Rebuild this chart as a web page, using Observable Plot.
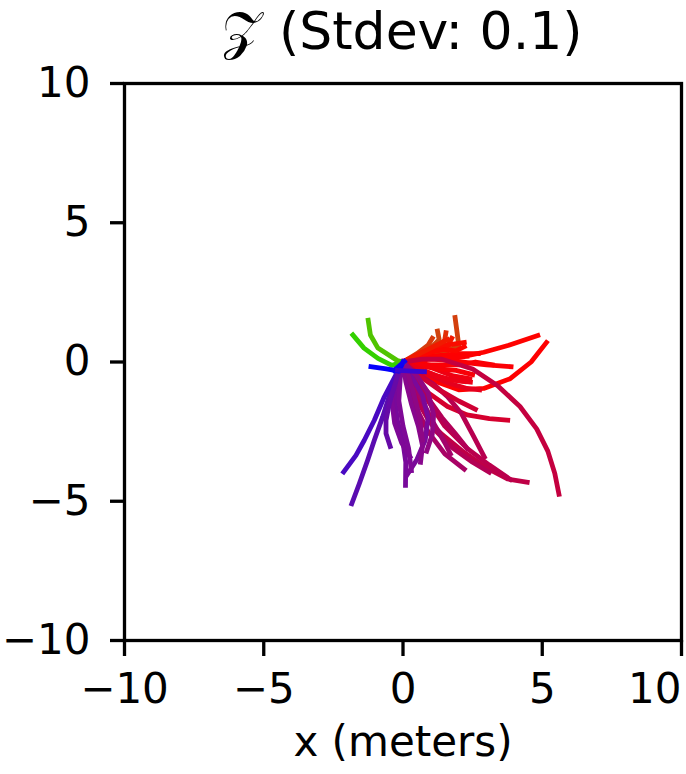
<!DOCTYPE html>
<html>
<head>
<meta charset="utf-8">
<script src="https://cdn.jsdelivr.net/npm/d3@7"></script>
<script src="https://cdn.jsdelivr.net/npm/@observablehq/plot@0.6"></script>
<style>
  html, body { margin: 0; padding: 0; background: white; }
  #title { height: 66px; line-height: 62px; box-sizing: border-box; padding-left: 124px; padding-right: 5px;
           text-align: center; font-family: "DejaVu Sans", sans-serif; font-size: 52px; color: black; white-space: nowrap; }
  #chart svg { overflow: visible; }
</style>
</head>
<body>
<div id="title">𝒵 (Stdev: 0.1)</div>
<div id="chart"></div>
<script>
// Tick values
const xTicks = [-10, -5, 0, 5, 10];
const yTicks = [-10, -5, 0, 5, 10];

// Trajectories (x, y in meters), grouped by colour family
const greenPaths = [
  [[0,0],[-0.4,-0.12],[-0.9,0.13],[-1.4,0.5],[-1.8,0.97]],
  [[0,0],[-0.2,0.05],[-0.9,0.5],[-1.17,0.97],[-1.25,1.5]]
];
const redPaths = [
  [[0,0],[0.8,0.25],[1.6,0.4],[2.0,0.6],[1.95,1.0],[1.87,1.6]],
  [[0,0],[0.6,0.3],[1.1,0.6],[1.3,0.8],[1.24,1.11]],
  [[0,0],[0.7,0.25],[1.3,0.5],[1.5,0.8],[1.54,1.05]],
  [[0,0],[0.5,0.3],[0.9,0.6],[1.05,0.85]],
  [[0,0],[0.6,0.2],[1.2,0.45],[1.6,0.55],[1.75,0.85]],
  [[0,0],[0.8,0.15],[1.6,0.2],[2.4,0.25],[2.9,0.35],[3.8,0.6],[4.84,0.95]],
  [[0,0],[0.9,-0.6],[2.0,-1.0],[2.9,-0.95],[3.85,-0.6],[4.6,0.0],[5.15,0.7]],
  [[0,0],[1,0.1],[1.8,0.05],[2.5,-0.05],[3.0,-0.1],[3.88,-0.17]],
  [[0,0],[1,-0.1],[2,-0.1],[2.6,0.0],[3.2,-0.1]],
  [[0,0],[1,0.2],[2,0.3],[2.7,0.3]],
  [[0,0],[1,-0.2],[1.8,-0.5],[2.4,-0.6]],
  [[0,0],[0.8,-0.4],[1.6,-0.75],[2.3,-0.95],[2.75,-1.0]],
  [[0,0],[0.7,-0.3],[1.5,-0.6],[2.2,-0.7]],
  [[0,0],[0.8,0.4],[1.5,0.6],[2.2,0.7]],
  [[0,0],[0.5,0.15],[1.0,0.35],[1.5,0.45],[1.9,0.4],[2.2,0.55]],
  [[0,0],[0.6,0.05],[1.2,0.2],[1.7,0.15],[2.3,0.2]],
  [[0,0],[0.6,-0.1],[1.3,-0.25],[1.9,-0.3],[2.5,-0.45]],
  [[0,0],[0.4,0.2],[0.9,0.45],[1.4,0.7],[1.6,0.8]],
  [[0,0],[0.6,-0.25],[1.2,-0.5],[1.8,-0.65],[2.42,-0.72]]
];
const crimsonPaths = [
  [[0,0],[0.7,0.1],[1.4,0.1],[2.5,-0.25],[3.4,-0.85],[4.2,-1.6],[4.8,-2.4],[5.2,-3.2],[5.45,-4.0],[5.6,-4.75]],
  [[0,0],[0.4,-0.5],[0.9,-1.1],[1.6,-1.6],[2.3,-1.9],[3.1,-2.03],[3.76,-2.09]],
  [[0,0],[0.5,-0.4],[1.1,-0.8],[1.6,-1.25],[2.1,-1.85],[2.55,-2.7],[2.92,-3.41]],
  [[0,0],[0.3,-0.7],[0.6,-1.5],[0.95,-2.15],[1.4,-2.6],[2.2,-3.25],[3.0,-3.8],[3.75,-4.2],[4.46,-4.32]],
  [[0,0],[0.3,-0.8],[0.7,-1.7],[1.2,-2.5],[1.8,-3.1],[2.5,-3.6],[3.1,-3.96]],
  [[0,0],[0.2,-0.8],[0.5,-1.7],[0.9,-2.5],[1.5,-3.3],[2.2,-3.85]],
  [[0,0],[0.4,-0.6],[0.9,-1.4],[1.5,-2.3],[2.3,-3.1],[3.1,-3.7],[3.86,-4.22]],
  [[0,0],[0.6,-0.5],[1.3,-1.0],[2.0,-1.4],[2.6,-1.7]],
  [[0,0],[0.3,-0.6],[0.7,-1.4],[1.1,-2.2],[1.5,-2.9],[1.7,-3.3]],
  [[0,0],[0.4,-0.6],[0.9,-1.3],[1.4,-2.0],[1.9,-2.6],[2.3,-3.1]]
];
const purplePaths = [
  [[0,0],[-0.2,-0.6],[-0.3,-1.3],[-0.2,-2.1],[0.0,-2.9],[0.1,-3.6],[0.09,-4.43]],
  [[0,0],[0.3,-0.5],[0.7,-1.2],[0.9,-2.0],[0.8,-2.8],[0.5,-3.5],[0.15,-4.05]],
  [[0,0],[0.1,-0.7],[0.3,-1.5],[0.55,-2.3],[0.7,-3.0],[0.63,-3.6]],
  [[0,0],[-0.3,-0.6],[-0.4,-1.4],[-0.3,-2.2],[-0.05,-2.9],[0.25,-3.4]],
  [[0,0],[0.5,-0.5],[0.9,-1.1],[1.1,-1.9],[1.05,-2.6],[0.85,-3.2]],
  [[0,0],[0.2,-0.5],[0.4,-1.2],[0.6,-2.0],[0.7,-2.8]],
  [[0,0],[-0.1,-0.6],[-0.15,-1.4],[0.0,-2.3],[0.2,-3.1],[0.3,-3.9]],
  [[0,0],[-0.2,-0.4],[-0.5,-1.25],[-0.73,-1.97],[-1.03,-2.81],[-1.27,-3.53],[-1.57,-4.37],[-1.84,-5.09]],
  [[0,0],[-0.25,-0.45],[-0.67,-1.25],[-1.03,-2.09],[-1.39,-2.81],[-1.69,-3.35],[-2.13,-3.95]],
  [[0,0],[-0.2,-0.5],[-0.49,-1.49],[-0.61,-2.09],[-0.61,-2.57],[-0.46,-3.03]]
];
const bluePaths = [
  [[0,0],[-0.15,-0.33],[-0.6,-0.25],[-1.15,-0.17]],
  [[-0.32,-0.3],[-0.15,-0.15],[0.05,0.02]],
  [[-0.2,-0.3],[0.3,-0.33],[0.77,-0.35]]
];
const blueDirs = [-172, -150, -125];

// Build a tidy table: one row per point, heading (deg) from the trajectory end
const rows = [];
function addGroup(name, paths, dirs) {
  paths.forEach((p, i) => {
    const end = p[p.length - 1];
    const dir = dirs ? dirs[i] : Math.atan2(end[1], end[0]) * 180 / Math.PI;
    p.forEach(([x, y]) => rows.push({id: name + i, x, y, dir}));
  });
}
addGroup("r", redPaths);
addGroup("c", crimsonPaths);
addGroup("p", purplePaths);
addGroup("g", greenPaths);
addGroup("b", bluePaths, blueDirs);

const fmt = d => (d < 0 ? "\u2212" + Math.abs(d) : String(d));
const xTicksInner = xTicks.slice(0, -1);
const xTicksLast = xTicks.slice(-1);

const chart = Plot.plot({
  width: 686,
  height: 708,
  marginTop: 17,
  marginBottom: 134,
  marginLeft: 124,
  marginRight: 5,
  style: {fontFamily: "DejaVu Sans", fontSize: "42px", color: "black", background: "white", overflow: "visible"},
  x: {domain: [-10, 10]},
  y: {domain: [-10, 10]},
  color: {
    type: "linear",
    interpolate: "rgb",
    domain: [-180, -150, -125, -110, -95, -85, -70, -55, -40, -25, -10, 10, 28, 42, 100, 135, 160, 180],
    range: ["#0000ff", "#1000f4", "#3c06d0", "#5a0cb0", "#6a0aa4", "#800896", "#98067a", "#b0005a", "#c4003e",
            "#dc0028", "#f80008", "#ff0000", "#f01c00", "#d04410", "#80b000", "#48c800", "#28d400", "#0000ff"]
  },
  marks: [
    Plot.line(rows, {x: "x", y: "y", z: "id", stroke: "dir", strokeWidth: 4.8, strokeLinecap: "square"}),
    Plot.frame({stroke: "black", strokeWidth: 3.3}),
    Plot.axisX({ticks: xTicksInner, tickFormat: fmt, tickSize: 16, tickPadding: 17, strokeWidth: 3.3, fontSize: 42, label: null}),
    Plot.axisX({ticks: xTicksLast, tickFormat: fmt, tickSize: 16, tickPadding: 17, strokeWidth: 3.3, fontSize: 42, textAnchor: "end", dx: 0, label: null}),
    Plot.axisY({ticks: yTicks, tickFormat: fmt, tickSize: 14, tickPadding: 20, strokeWidth: 3.3, fontSize: 42, label: null}),
    Plot.text(["x (meters)"], {frameAnchor: "bottom", lineAnchor: "middle", dy: 102, fontSize: 42, fill: "black"})
  ]
});
document.getElementById("chart").appendChild(chart);
</script>
</body>
</html>
